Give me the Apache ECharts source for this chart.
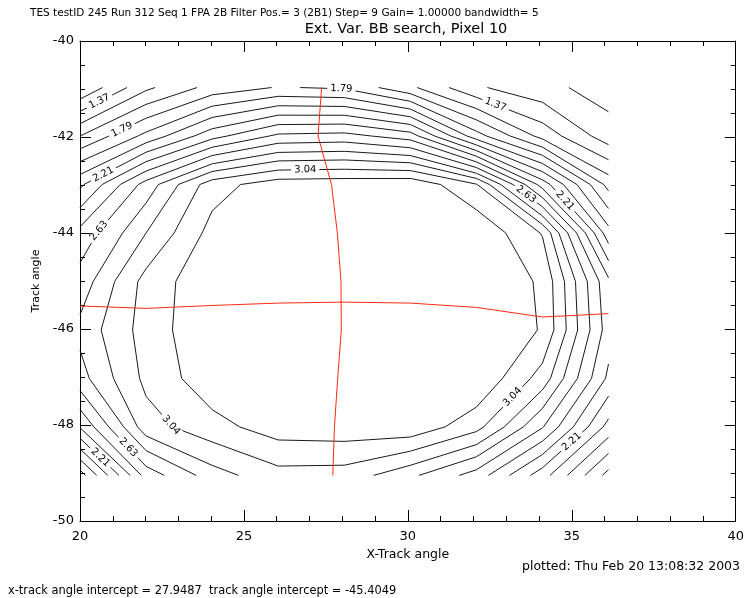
<!DOCTYPE html>
<html>
<head>
<meta charset="utf-8">
<script src="https://cdn.jsdelivr.net/npm/echarts@6/dist/echarts.min.js"></script>
<style>html,body{margin:0;padding:0;background:#fff}#c{width:747px;height:598px}</style>
</head>
<body>
<div id="c"></div>
<script>
// ---- data ----
const xNodes = [20, 22.015, 24.03, 26.045, 28.06, 30.075, 32.09, 34.105, 36.12];
const yNodes = [-40.97, -41.98, -42.99, -44.00, -45.01, -46.02, -47.03, -48.04, -49.05];
const zRow0 = [1.10, 1.48, 1.70, 1.80, 1.77, 1.54, 1.25, 1.13, 1.03];
const zRow1 = [1.65, 1.97, 2.30, 2.52, 2.54, 2.42, 1.85, 1.46, 1.15];
const zRow2 = [2.18, 2.69, 3.12, 3.26, 3.27, 3.29, 3.05, 2.29, 1.60];
const zRow3 = [2.535, 2.90, 3.23, 3.28, 3.30, 3.30, 3.30, 3.03, 1.985];
const zRow4 = [2.69, 3.09, 3.29, 3.30, 3.31, 3.31, 3.30, 3.16, 2.38];
const zRow5 = [2.806, 3.10, 3.30, 3.30, 3.31, 3.31, 3.30, 3.17, 2.42];
const zRow6 = [2.72, 3.075, 3.27, 3.30, 3.30, 3.30, 3.31, 2.98, 2.32];
const zRow7 = [2.36, 2.98, 3.13, 3.25, 3.265, 3.28, 3.09, 2.64, 2.02];
const zRow8 = [1.72, 2.55, 2.84, 2.99, 2.98, 2.80, 2.57, 2.13, 1.60];
const levels = [1.09, 1.23, 1.37, 1.51, 1.65, 1.79, 1.93, 2.07, 2.21, 2.35, 2.49, 2.63, 2.77, 2.90, 3.04, 3.18];
// maximum-locus lines (red)
const ridgeX = [27.37, 27.26, 27.67, 27.85, 27.96, 27.97, 27.86, 27.76, 27.71]; // x at each yNode
const ridgeY = [-45.52, -45.57, -45.51, -45.46, -45.44, -45.46, -45.55, -45.75, -45.68]; // y at each xNode
// contour label anchors (data units) and their level index
const labelLevel = [2, 5, 8, 11, 5, 14, 2, 11, 8, 14, 8, 14, 11, 8];
const labelX = [20.6, 21.24, 20.75, 20.66, 27.97, 26.87, 32.67, 33.4, 34.55, 33.23, 35.0, 22.72, 21.5, 20.66];
const labelY = [-41.27, -41.79, -42.83, -44.0, -41.04, -42.67, -41.33, -43.375, -43.48, -47.44, -48.35, -48.04, -48.45, -48.65];
const xTicks = {min: 20, max: 40, step: 5};
const yTicks = {min: -50, max: -40, step: 2};

const zGrid = [zRow0, zRow1, zRow2, zRow3, zRow4, zRow5, zRow6, zRow7, zRow8];

// ---- marching squares ----
function contourSegments(L) {
  const segs = [];
  for (let j = 0; j < yNodes.length - 1; j++) {
    for (let i = 0; i < xNodes.length - 1; i++) {
      const a = zGrid[j][i], b = zGrid[j][i + 1], c = zGrid[j + 1][i + 1], d = zGrid[j + 1][i];
      const PA = [xNodes[i], yNodes[j]], PB = [xNodes[i + 1], yNodes[j]];
      const PC = [xNodes[i + 1], yNodes[j + 1]], PD = [xNodes[i], yNodes[j + 1]];
      const up = v => v >= L;
      const ip = (va, vb, pa, pb) => { const t = (L - va) / (vb - va); return [pa[0] + t * (pb[0] - pa[0]), pa[1] + t * (pb[1] - pa[1])]; };
      const top = up(a) !== up(b) ? ip(a, b, PA, PB) : null;
      const right = up(b) !== up(c) ? ip(b, c, PB, PC) : null;
      const bottom = up(c) !== up(d) ? ip(c, d, PC, PD) : null;
      const left = up(d) !== up(a) ? ip(d, a, PD, PA) : null;
      const pts = [top, right, bottom, left].filter(p => p);
      if (pts.length === 2) segs.push([pts[0], pts[1]]);
      else if (pts.length === 4) {
        const ctr = (a + b + c + d) / 4;
        if (up(ctr) === up(a)) { segs.push([top, right]); segs.push([bottom, left]); }
        else { segs.push([left, top]); segs.push([right, bottom]); }
      }
    }
  }
  return segs;
}
const segsByLevel = levels.map(contourSegments);
const allSegs = [];
segsByLevel.forEach(s => s.forEach(seg => allSegs.push({coords: seg})));

const FONT = '"DejaVu Sans", "Liberation Sans", sans-serif';
const chart = echarts.init(document.getElementById('c'), null, {renderer: 'canvas'});

function mkX(pos, show) {
  return {
    type: 'value', position: pos, min: xTicks.min, max: xTicks.max, interval: xTicks.step,
    axisLine: {show: true, onZero: false, lineStyle: {color: '#000', width: 1}},
    axisTick: {show: true, inside: true, length: 11, lineStyle: {color: '#000'}},
    minorTick: {show: true, splitNumber: 5, length: 5, lineStyle: {color: '#000'}},
    splitLine: {show: false}, minorSplitLine: {show: false},
    axisLabel: {show: show, color: '#000', fontSize: 13, fontFamily: FONT, margin: 9},
    name: show ? 'X-Track angle' : '', nameLocation: 'middle', nameGap: 25,
    nameTextStyle: {color: '#000', fontSize: 12.5, fontFamily: FONT}
  };
}
function mkY(pos, show) {
  return {
    type: 'value', position: pos, min: yTicks.min, max: yTicks.max, interval: yTicks.step,
    axisLine: {show: true, onZero: false, lineStyle: {color: '#000', width: 1}},
    axisTick: {show: true, inside: true, length: 11, lineStyle: {color: '#000'}},
    minorTick: {show: true, splitNumber: 4, length: 5, lineStyle: {color: '#000'}},
    splitLine: {show: false}, minorSplitLine: {show: false},
    axisLabel: {show: show, color: '#000', fontSize: 13, fontFamily: FONT, margin: 6},
    name: show ? 'Track angle' : '', nameLocation: 'middle', nameGap: 36,
    nameTextStyle: {color: '#000', fontSize: 11, fontFamily: FONT}
  };
}

const option = {
  animation: false,
  backgroundColor: '#fff',
  grid: {left: 80, right: 7, top: 41, bottom: 77, containLabel: false},
  xAxis: [mkX('bottom', true), mkX('top', false)],
  yAxis: [mkY('left', true), mkY('right', false)],
  graphic: [
    {type: 'text', x: 30, y: 13, style: {text: 'TES testID 245 Run 312 Seq 1 FPA 2B Filter Pos.= 3 (2B1) Step= 9 Gain= 1.00000 bandwidth= 5', font: '10.5px ' + FONT, fill: '#000', align: 'left', verticalAlign: 'middle'}},
    {type: 'text', x: 406, y: 29, style: {text: 'Ext. Var. BB search, Pixel 10', font: '14.5px ' + FONT, fill: '#000', align: 'center', verticalAlign: 'middle'}},
    {type: 'text', x: 740, y: 567, style: {text: 'plotted: Thu Feb 20 13:08:32 2003', font: '12.5px ' + FONT, fill: '#000', align: 'right', verticalAlign: 'middle'}},
    {type: 'text', x: 8, y: 591, style: {text: 'x-track angle intercept = 27.9487  track angle intercept = -45.4049', font: '11.4px ' + FONT, fill: '#000', align: 'left', verticalAlign: 'middle'}}
  ],
  series: [
    {
      type: 'lines', coordinateSystem: 'cartesian2d', xAxisIndex: 0, yAxisIndex: 0,
      data: allSegs, silent: true, z: 2,
      lineStyle: {color: '#1a1a1a', width: 1, opacity: 1}
    },
    {
      type: 'line', xAxisIndex: 0, yAxisIndex: 0, z: 3, silent: true,
      data: yNodes.map((y, k) => [ridgeX[k], y]), showSymbol: false, symbol: 'none',
      lineStyle: {color: '#ff2a10', width: 1}
    },
    {
      type: 'line', xAxisIndex: 0, yAxisIndex: 0, z: 3, silent: true,
      data: xNodes.map((x, k) => [x, ridgeY[k]]), showSymbol: false, symbol: 'none',
      lineStyle: {color: '#ff2a10', width: 1}
    },
    {
      type: 'custom', xAxisIndex: 0, yAxisIndex: 0, z: 4, silent: true, clip: false,
      data: labelX.map((x, k) => [x, labelY[k], k]),
      renderItem: function (params, api) {
        const k = api.value(2);
        const lv = labelLevel[k];
        const p = api.coord([api.value(0), api.value(1)]);
        let best = null, bd = Infinity;
        segsByLevel[lv].forEach(s => {
          const a = api.coord(s[0]), b = api.coord(s[1]);
          const dx = b[0] - a[0], dy = b[1] - a[1];
          const L2 = dx * dx + dy * dy;
          if (!L2) return;
          let t = ((p[0] - a[0]) * dx + (p[1] - a[1]) * dy) / L2;
          t = Math.max(0, Math.min(1, t));
          const q = [a[0] + t * dx, a[1] + t * dy];
          const d = (q[0] - p[0]) ** 2 + (q[1] - p[1]) ** 2;
          if (d < bd) { bd = d; best = {q: q, ang: Math.atan2(dy, dx)}; }
        });
        if (!best) return null;
        let ang = best.ang;
        if (ang > Math.PI / 2) ang -= Math.PI;
        if (ang < -Math.PI / 2) ang += Math.PI;
        return {
          type: 'text', x: best.q[0], y: best.q[1], rotation: -ang,
          style: {text: levels[lv].toFixed(2), fill: '#000', font: '10px ' + FONT, align: 'center', verticalAlign: 'middle', backgroundColor: '#fff', padding: [0, 3]}
        };
      }
    }
  ]
};
chart.setOption(option);
</script>
</body>
</html>
